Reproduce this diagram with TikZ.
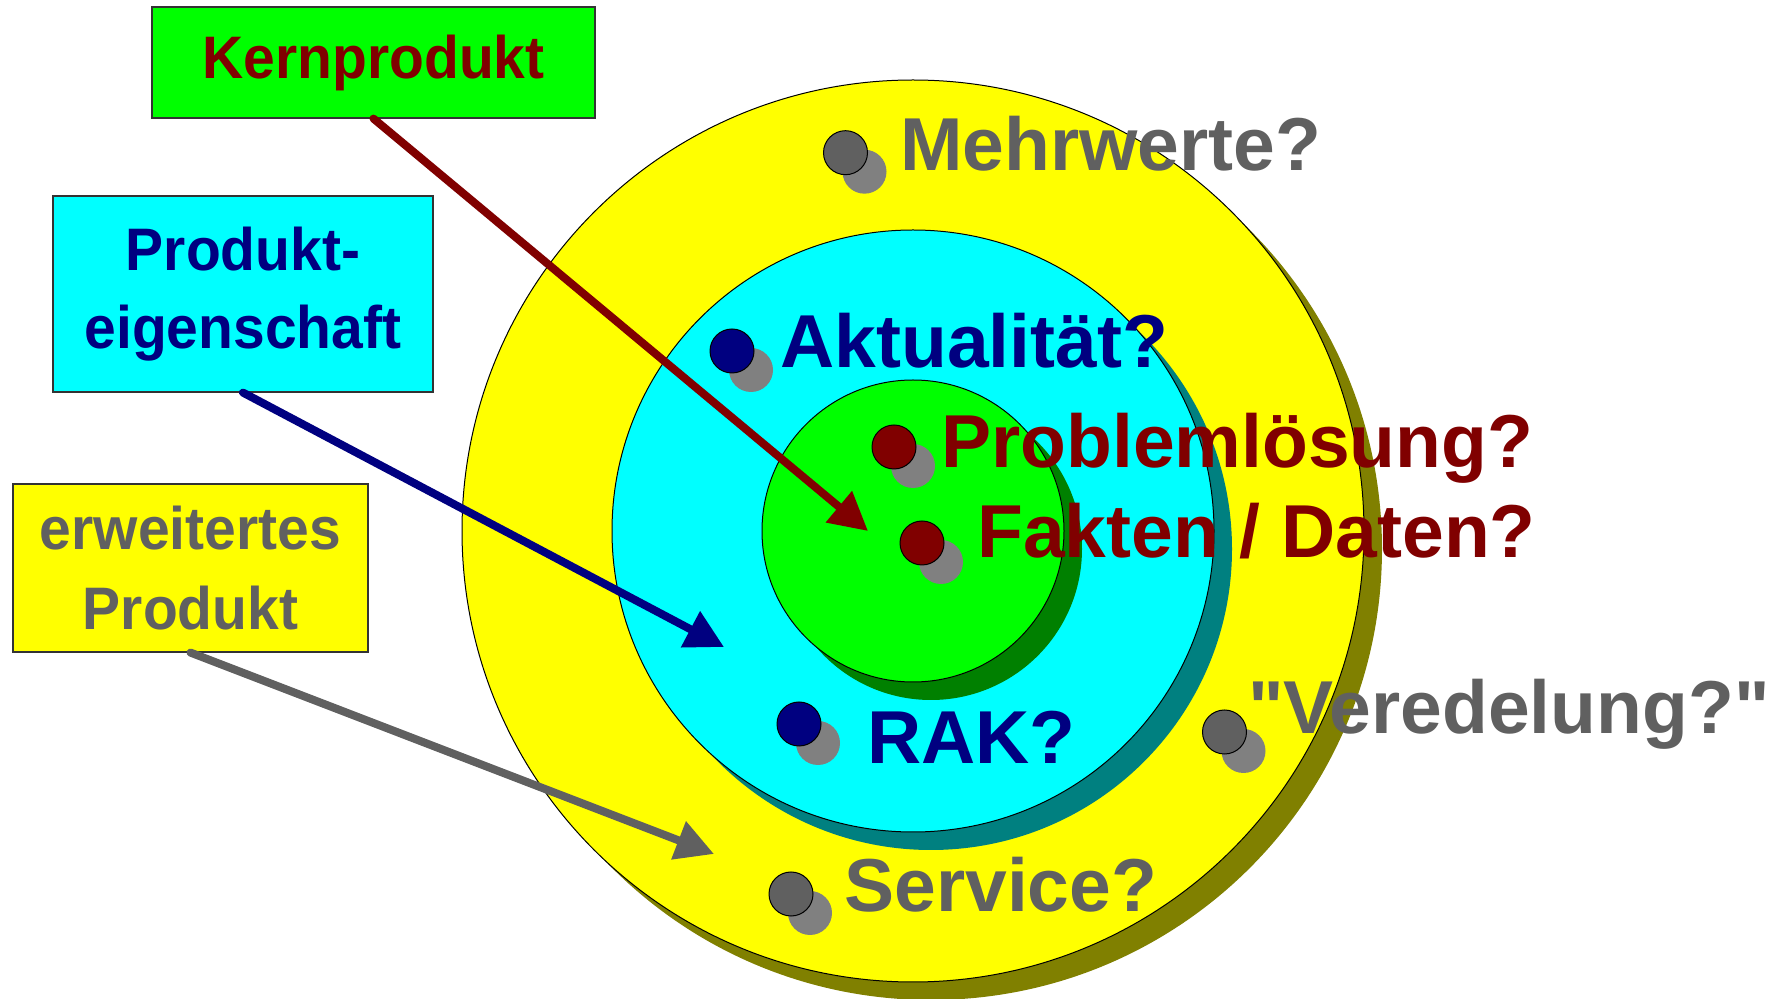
\documentclass[tikz,border=0pt]{standalone}
\usepackage{fontspec}
\setmainfont{Liberation Sans}[Ligatures=TeXOff]
\newfontfamily\boxfont{Liberation Sans}[FakeStretch=0.95, Ligatures=TeXOff]
\usetikzlibrary{arrows.meta}

\definecolor{ringyellow}{HTML}{FFFF00}
\definecolor{ringcyan}{HTML}{00FFFF}
\definecolor{ringgreen}{HTML}{00FF00}
\definecolor{shadeyellow}{HTML}{808000}
\definecolor{shadecyan}{HTML}{008080}
\definecolor{shadegreen}{HTML}{008000}
\definecolor{txtmaroon}{HTML}{800000}
\definecolor{txtnavy}{HTML}{000080}
\definecolor{txtgray}{HTML}{606060}
\definecolor{dotshade}{HTML}{808080}

\begin{document}
\begin{tikzpicture}[x=0.5pt,y=-0.5pt,
  ring/.style={draw=black, line width=0.5pt},
  labelbox/.style={draw=black!80, line width=0.6pt, inner sep=0pt, align=center,
    font=\boxfont\bfseries\fontsize{30pt}{39pt}\selectfont},
  lbl/.style={anchor=base west, inner sep=0pt,
    font=\bfseries\fontsize{37.5pt}{45pt}\selectfont},
  pointer/.style={line width=4pt, line cap=round,
    -{Triangle[length=19pt,width=19.5pt]}},
]
\useasboundingbox (0,0) rectangle (1785,999);

% concentric rings, each with an offset drop shadow
\fill[shadeyellow] (931,549) circle (451);
\fill[ringyellow] (913,531) circle (451);
\draw[ring] (913,531) circle (451);
\fill[shadecyan] (931,549) circle (301);
\fill[ringcyan] (913,531) circle (301);
\draw[ring] (913,531) circle (301);
\fill[shadegreen] (931,549) circle (151);
\fill[ringgreen] (913,531) circle (151);
\draw[ring] (913,531) circle (151);

% legend boxes
\node[labelbox, fill=ringgreen, text=txtmaroon, minimum width=221.5pt, minimum height=55.5pt]
  (kern) at (373.5,62.5) {Kernprodukt};
\node[labelbox, fill=ringcyan, text=txtnavy, minimum width=190pt, minimum height=98pt]
  (eigen) at (243,294) {Produkt-\\eigenschaft};
\node[labelbox, fill=ringyellow, text=txtgray, minimum width=177.5pt, minimum height=84pt,
  font=\boxfont\bfseries\fontsize{30pt}{40pt}\selectfont]
  (erw) at (190.5,568) {erweitertes\\Produkt};

% pointer targets
\coordinate (kerntip) at (868,531);
\coordinate (eigentip) at (724,647);
\coordinate (erwtip) at (714,854);

\draw[pointer, txtmaroon] (kern.south) -- (kerntip);
\draw[pointer, txtnavy] (eigen.south) -- (eigentip);
\draw[pointer, txtgray] (erw.south) -- (erwtip);

% bullet points with shadows
\foreach \x/\y/\c in {845.5/152.7/txtgray, 732/351/txtnavy, 894/447/txtmaroon,
  922/543/txtmaroon, 799/724/txtnavy, 1224.5/732/txtgray, 791/894/txtgray} {
  \fill[dotshade] (\x+19,\y+19) circle (22);
  \filldraw[fill=\c, draw=black, line width=0.5pt] (\x,\y) circle (22);
}

% labels
\node[lbl, text=txtgray] (mehr) at (900,171) {Mehrwerte?};
\node[lbl, text=txtnavy] (aktu) at (780,368) {Aktualität?};
\node[lbl, text=txtmaroon] (prob) at (941,468) {Problemlösung?};
\node[lbl, text=txtmaroon] (fakt) at (977,558) {Fakten / Daten?};
\node[lbl, text=txtnavy] (rak) at (867,764) {RAK?};
\node[lbl, text=txtgray] (vered) at (1248,734) {"Veredelung?"};
\node[lbl, text=txtgray] (serv) at (844,912) {Service?};
\end{tikzpicture}
\end{document}
